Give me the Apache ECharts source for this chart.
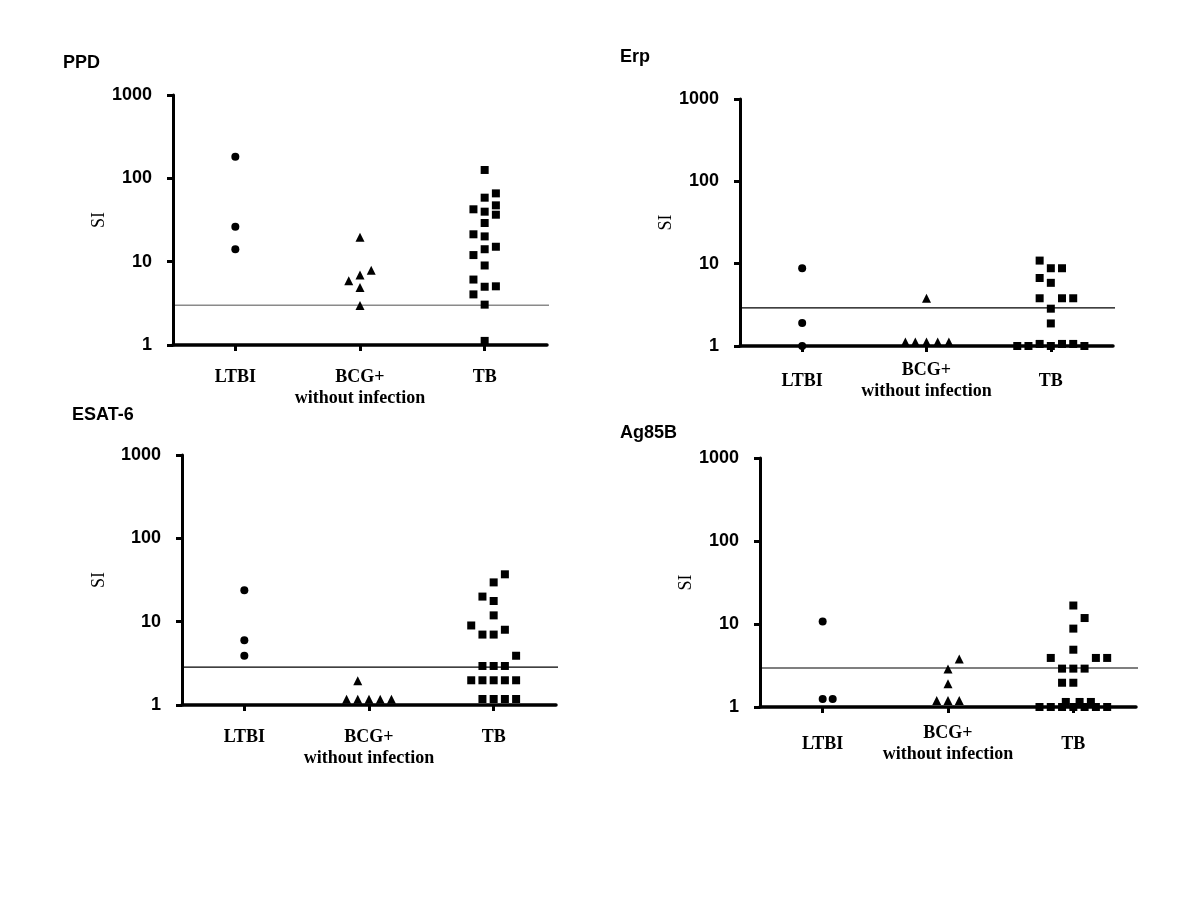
<!DOCTYPE html>
<html>
<head>
<meta charset="utf-8">
<script src="https://cdn.jsdelivr.net/npm/echarts@6/dist/echarts.min.js"></script>
<style>html,body{margin:0;padding:0;background:#fff;}#c{width:1200px;height:900px;}</style>
</head>
<body>
<div id="c"></div>
<script>
// ---- data ----
const categories = ['LTBI', 'BCG+\nwithout infection', 'TB'];
const yTicks = [1, 10, 100, 1000];
const panelTitles = ['PPD', 'Erp', 'ESAT-6', 'Ag85B'];
const cutoffs = [3, 2.9, 2.85, 2.95];

// [jitter offset from group centre, SI value]
const ppdLTBI = [[0,182],[0,26.3],[0,14.1]];
const ppdBCG  = [[0,19.6],[0.09,7.9],[0,6.9],[-0.09,5.9],[0,4.9],[0,2.97]];
const ppdTB   = [[0,126],[0,58.6],[0,39.8],[0,29.1],[0,20.1],[0,14.1],[0,9.0],[0,5.0],[0,3.05],[0,1.12],
                 [-0.09,42.5],[-0.09,21.3],[-0.09,12.0],[-0.09,6.1],[-0.09,4.05],
                 [0.09,66],[0.09,47.4],[0.09,36.6],[0.09,15.1],[0.09,5.06]];

const erpLTBI = [[0,8.8],[0,1.9],[0,1.0]];
const erpBCG  = [[0,3.8],[-0.17,1.12],[-0.09,1.12],[0,1.12],[0.09,1.12],[0.18,1.12]];
const erpTB   = [[-0.09,10.9],[0,8.8],[0.09,8.8],[-0.09,6.7],[0,5.85],[-0.09,3.8],[0.09,3.8],[0.18,3.8],[0,2.84],[0,1.88],
                 [-0.27,1],[-0.18,1],[-0.09,1.06],[0,1],[0.09,1.06],[0.18,1.06],[0.27,1]];

const esatLTBI = [[0,23.8],[0,6.0],[0,3.9]];
const esatBCG  = [[-0.09,1.96],[-0.18,1.17],[-0.09,1.17],[0,1.17],[0.09,1.17],[0.18,1.17]];
const esatTB   = [[0.09,37],[0,29.6],[-0.09,20],[0,17.7],[0,11.9],[-0.18,9.0],[0.09,8.0],[-0.09,7.0],[0,7.0],[0.18,3.9],
                  [-0.09,2.94],[0,2.94],[0.09,2.94],
                  [-0.18,1.98],[-0.09,1.98],[0,1.98],[0.09,1.98],[0.18,1.98],
                  [-0.09,1.18],[0,1.18],[0.09,1.18],[0.18,1.18]];

const agLTBI = [[0,10.7],[0,1.25],[0.08,1.25]];
const agBCG  = [[0,2.86],[0.09,3.8],[0,1.9],[-0.09,1.2],[0,1.2],[0.09,1.2]];
const agTB   = [[0,16.7],[0.09,11.8],[0,8.8],[0,4.9],[-0.18,3.9],[0.18,3.9],[0.27,3.9],
                [-0.09,2.9],[0,2.9],[0.09,2.9],[-0.09,1.96],[0,1.96],
                [-0.06,1.15],[0.05,1.15],[0.14,1.15],
                [-0.27,1],[-0.18,1],[-0.09,1],[0,1],[0.09,1],[0.18,1],[0.27,1]];

const panelData = [
  [ppdLTBI, ppdBCG, ppdTB],
  [erpLTBI, erpBCG, erpTB],
  [esatLTBI, esatBCG, esatTB],
  [agLTBI, agBCG, agTB]
];

// ---- layout ----
const grids = [
  {left:173, top:95,  width:374, height:250},
  {left:740, top:99,  width:373, height:247},
  {left:182, top:455, width:374, height:250},
  {left:760, top:458, width:376, height:249}
];
const titlePos = [[63,54],[620,48],[72,406],[620,424]];
const nameGaps = [63, 65, 74, 65];
const labelAlign = [['top',22],['middle',35],['top',22],['middle',37]];
const refColors = ['#8a8a8a','#000','#000','#000'];
const refWidths = [1.5, 1.2, 1.2, 1.2];
const symbols = ['circle','triangle','rect'];
const symSizes = [8, 9, 8];

const chart = echarts.init(document.getElementById('c'), null, {renderer:'canvas'});
const xAxes = [], yAxes = [], series = [], graphics = [];

grids.forEach((g, i) => {
  // visible category axis (labels + ticks)
  xAxes.push({
    type:'category', gridIndex:i, data:categories, boundaryGap:true,
    axisLine:{show:true, lineStyle:{color:'#000', width:3.5}},
    axisTick:{show:true, alignWithLabel:true, length:6, lineStyle:{color:'#000', width:3}},
    axisLabel:{
      interval:0, color:'#000', fontFamily:'"Liberation Serif","Times New Roman",serif',
      fontWeight:'bold', fontSize:18, lineHeight:21,
      verticalAlign:labelAlign[i][0], margin:labelAlign[i][1]
    },
    splitLine:{show:false}, z:5
  });
  // hidden value axis for jittered scatter
  xAxes.push({
    type:'value', gridIndex:i, min:0.5, max:3.5, show:false, splitLine:{show:false}
  });
  yAxes.push({
    type:'log', logBase:10, gridIndex:i, min:1, max:1000,
    name:'SI', nameLocation:'middle', nameGap:nameGaps[i], nameRotate:90,
    nameTextStyle:{fontFamily:'"Liberation Serif","Times New Roman",serif', fontSize:18, color:'#000'},
    axisLine:{show:true, lineStyle:{color:'#000', width:3}},
    axisTick:{show:true, length:6, lineStyle:{color:'#000', width:3}},
    axisLabel:{color:'#000', fontFamily:'"Liberation Sans",Arial,sans-serif', fontWeight:'bold', fontSize:18, margin:21,
      formatter: v => yTicks.indexOf(Math.round(v)) >= 0 ? String(Math.round(v)) : ''},
    minorTick:{show:false}, splitLine:{show:false}, z:5
  });
  const valX = i*2 + 1;
  panelData[i].forEach((grp, k) => {
    series.push({
      type:'scatter', xAxisIndex:valX, yAxisIndex:i, clip:false,
      symbol:symbols[k], symbolSize:symSizes[k],
      itemStyle:{color:'#000', opacity:1},
      data: grp.map(p => [k + 1 + p[0], p[1]]),
      z:3
    });
  });
  series.push({
    type:'line', xAxisIndex:valX, yAxisIndex:i, clip:false, symbol:'none', silent:true,
    lineStyle:{color:refColors[i], width:refWidths[i]},
    data:[[0.5, cutoffs[i]], [3.55, cutoffs[i]]], z:2
  });
  graphics.push({
    type:'text', left:titlePos[i][0], top:titlePos[i][1],
    style:{text:panelTitles[i], fill:'#000', font:'bold 18px "Liberation Sans", Arial, sans-serif'}
  });
});

chart.setOption({
  animation:false,
  backgroundColor:'#fff',
  grid: grids.map(g => Object.assign({containLabel:false}, g)),
  xAxis: xAxes,
  yAxis: yAxes,
  series: series,
  graphic: graphics
});
</script>
</body>
</html>
